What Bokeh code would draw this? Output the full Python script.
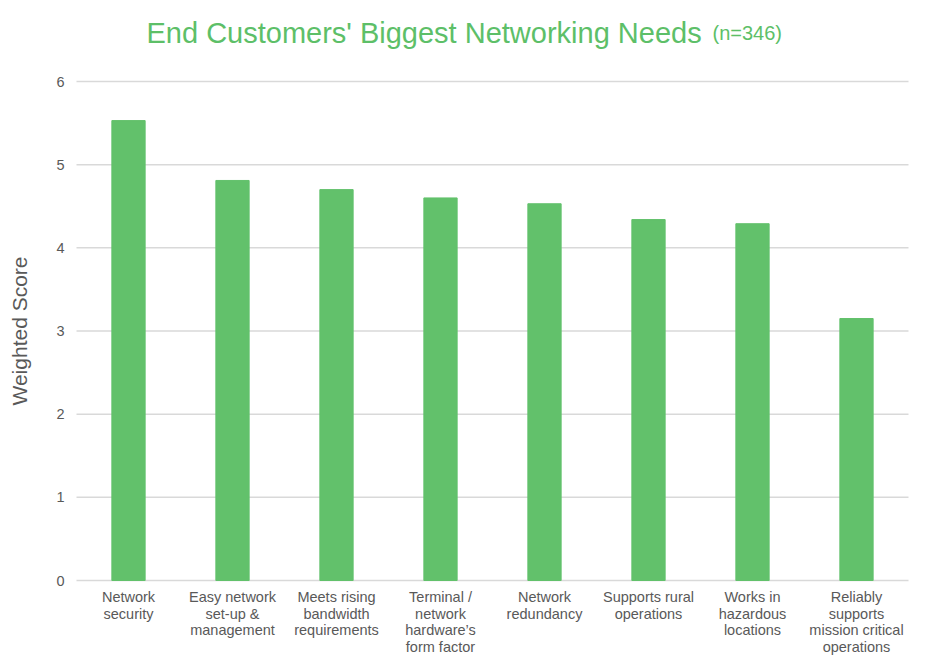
import math
from bokeh.plotting import figure
from bokeh.models import Range1d
from bokeh.core.properties import value
from bokeh.embed import file_html
from bokeh.resources import INLINE

categories = [
    "Network\nsecurity",
    "Easy network\nset-up &\nmanagement",
    "Meets rising\nbandwidth\nrequirements",
    "Terminal /\nnetwork\nhardware\u2019s\nform factor",
    "Network\nredundancy",
    "Supports rural\noperations",
    "Works in\nhazardous\nlocations",
    "Reliably\nsupports\nmission critical\noperations",
]
scores = [5.53, 4.81, 4.70, 4.60, 4.53, 4.34, 4.29, 3.15]
y_ticks = [0, 1, 2, 3, 4, 5, 6]
y_tick_labels = ["0", "1", "2", "3", "4", "5", "6"]
title_text = "End Customers' Biggest Networking Needs"
subtitle_text = "(n=346)"
y_label = "Weighted Score"

BAR = "#62C16B"
TITLE_C = "#5DBF68"
TXT = "#595959"
GRID = "#D9D9D9"
FONT = "Liberation Sans"

# layout of the canvas (pixels)
W, H = 930, 669
PL, PR, PT, PB = 76, 908, 81, 580          # plot area edges
n = len(categories)
YMAX = 6.0
sx = (PR - PL) / n                           # px per category slot
sy = (PB - PT) / YMAX                        # px per unit of score

def dx(px):  # horizontal pixel offset from plot-area left -> slot units
    return px / sx

def dy(px):  # vertical pixel offset (up) from zero line -> score units
    return px / sy

p = figure(
    width=W, height=H,
    x_range=Range1d(dx(-PL), dx(W - PL)),
    y_range=Range1d(dy(-(H - PB)), dy(PB)),
    output_backend="svg", toolbar_location=None,
    min_border=0,
)
p.axis.visible = False
p.grid.visible = False
p.outline_line_color = None
p.background_fill_color = "white"
p.border_fill_color = "white"

xs = [i + 0.5 for i in range(n)]

# gridlines across the plot area
p.segment(x0=[0] * len(y_ticks), x1=[n] * len(y_ticks), y0=y_ticks, y1=y_ticks,
          line_color=GRID, line_width=1.5)

# bars
p.vbar(x=xs, top=scores, width=0.32, bottom=0, color=BAR)

# y tick labels
p.text(x=[dx(-12)] * len(y_ticks), y=y_ticks, text=y_tick_labels,
       text_font=value(FONT), text_font_size="14.5px", text_color=TXT,
       text_align="right", text_baseline="middle")

# y axis label
p.text(x=[dx(19 - PL)], y=[YMAX / 2], text=[y_label], angle=math.pi / 2,
       text_font=value(FONT), text_font_size="21px", text_color=TXT,
       text_align="center", text_baseline="middle")

# category labels
p.text(x=xs, y=[dy(-8.5)] * n, text=categories,
       text_font=value(FONT), text_font_size="14.5px", text_color=TXT,
       text_align="center", text_baseline="top", text_line_height=1.04)

# title
TY = YMAX + dy(PT - 32)
p.text(x=[dx(146 - PL)], y=[TY], text=[title_text],
       text_font=value(FONT), text_font_size="29px", text_color=TITLE_C,
       text_align="left", text_baseline="alphabetic")
p.text(x=[dx(712 - PL)], y=[TY], text=[subtitle_text],
       text_font=value(FONT), text_font_size="20px", text_color=TITLE_C,
       text_align="left", text_baseline="alphabetic")

open("out.html", "w").write(file_html(p, INLINE))
